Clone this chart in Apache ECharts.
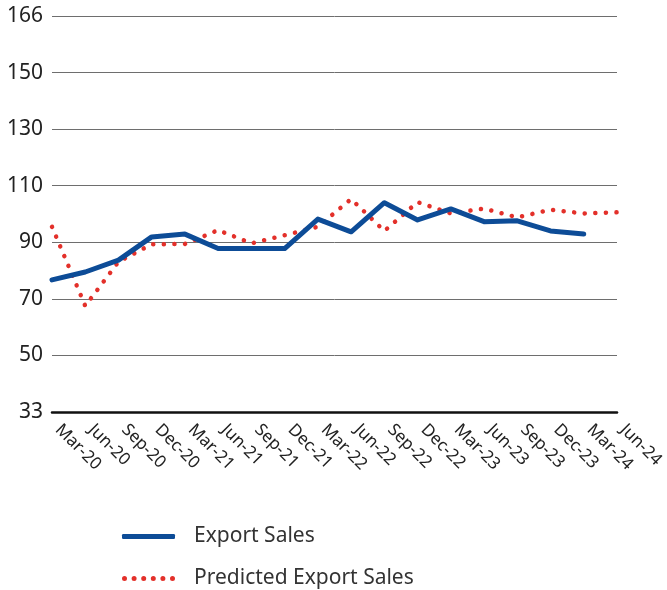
<!DOCTYPE html>
<html>
<head>
<meta charset="utf-8">
<script src="https://cdn.jsdelivr.net/npm/echarts@6/dist/echarts.min.js"></script>
<style>
  html, body { margin: 0; padding: 0; background: #fff; }
  #chart { width: 667px; height: 590px; }
</style>
</head>
<body>
<div id="chart"></div>
<script>
// Quarter labels along the x axis
const quarters = ['Mar-20','Jun-20','Sep-20','Dec-20','Mar-21','Jun-21','Sep-21','Dec-21',
  'Mar-22','Jun-22','Sep-22','Dec-22','Mar-23','Jun-23','Sep-23','Dec-23','Mar-24','Jun-24'];

// Actual export sales (index), Mar-20 to Mar-24
const exportSales = [76.7, 79.5, 83.7, 91.9, 92.9, 87.8, 87.8, 87.8,
  98.2, 93.7, 104.0, 97.9, 101.8, 97.3, 97.6, 94.0, 92.9];

// Predicted export sales (index), Mar-20 to Jun-24
const predictedSales = [95.5, 67.5, 83.1, 89.3, 89.4, 94.3, 89.6, 92.5,
  95.5, 105.3, 94.0, 104.2, 100.2, 101.9, 98.8, 101.5, 100.2, 100.6];

// Printed y-axis tick labels, bottom to top
const yTickLabels = ['33', '50', '70', '90', '110', '130', '150', '166'];

const FONT = 'Noto Sans';
const BLUE = '#0d4c97';
const RED = '#e3302a';

// Legend icon for the dotted series: a row of round dots
function dotRowPath(count, w, r) {
  const step = (w - 2 * r) / (count - 1);
  let d = '';
  for (let i = 0; i < count; i++) {
    const cx = r + i * step;
    d += `M${cx - r},${r} a${r},${r} 0 1,0 ${2 * r},0 a${r},${r} 0 1,0 ${-2 * r},0 Z `;
  }
  return 'path://' + d;
}

// One legend block per row, stacked under the plot
function legendRow(name, icon, color, top) {
  return {
    orient: 'horizontal',
    left: 117,
    top: top,
    itemWidth: 53,
    itemHeight: 5,
    textStyle: { fontFamily: FONT, fontSize: 21, color: '#333333', padding: [0, 0, 0, 14] },
    data: [{ name: name, icon: icon, itemStyle: { color: color, borderWidth: 0 } }]
  };
}

const chart = echarts.init(document.getElementById('chart'), null, { renderer: 'canvas' });

chart.setOption({
  animation: false,
  backgroundColor: '#ffffff',
  textStyle: { fontFamily: FONT },
  grid: { left: 52, right: 50, top: 16, bottom: 178, containLabel: false },
  legend: [
    legendRow('Export Sales', 'roundRect', BLUE, 521),
    legendRow('Predicted Export Sales', dotRowPath(6, 53, 2.5), RED, 563)
  ],
  xAxis: {
    type: 'category',
    data: quarters,
    boundaryGap: false,
    axisLine: { show: true, lineStyle: { color: '#111111', width: 2.5 } },
    axisTick: { show: false },
    axisLabel: {
      rotate: -45,
      interval: 0,
      margin: 21,
      verticalAlign: 'bottom',
      fontFamily: FONT,
      fontSize: 17,
      color: '#222222'
    },
    splitLine: { show: false }
  },
  yAxis: {
    type: 'value',
    min: 30,
    max: 170,
    interval: 20,
    axisLine: { show: false },
    axisTick: { show: false },
    axisLabel: {
      margin: 9,
      fontFamily: FONT,
      fontSize: 21,
      color: '#222222',
      formatter: v => yTickLabels[Math.round((v - 30) / 20)]
    },
    splitLine: { show: true, lineStyle: { color: '#6e6e6e', width: 1 } }
  },
  series: [
    {
      name: 'Export Sales',
      type: 'line',
      data: exportSales,
      symbol: 'none',
      z: 3,
      lineStyle: { color: BLUE, width: 5, cap: 'round', join: 'round' },
      itemStyle: { color: BLUE }
    },
    {
      name: 'Predicted Export Sales',
      type: 'line',
      data: predictedSales,
      symbol: 'none',
      z: 2,
      lineStyle: { color: RED, width: 4.5, type: [0.1, 10.5], cap: 'round', join: 'round' },
      itemStyle: { color: RED }
    }
  ]
});
</script>
</body>
</html>
